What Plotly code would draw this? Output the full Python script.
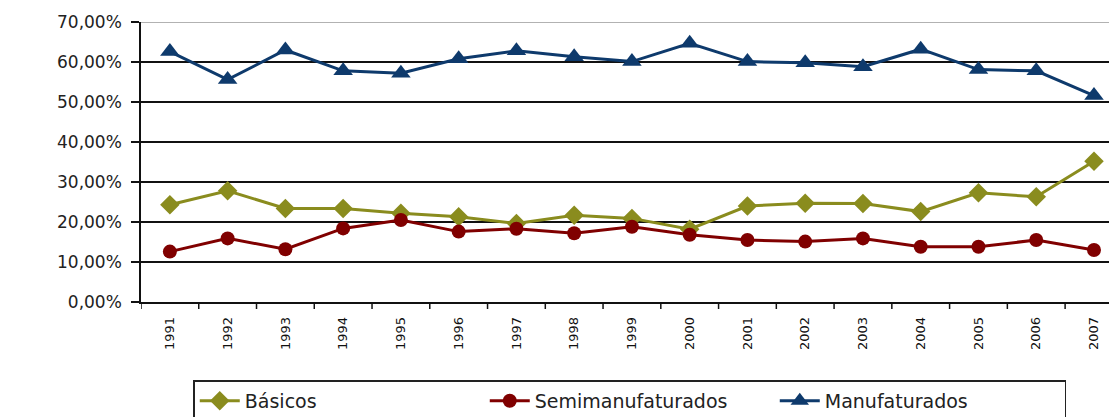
import plotly.graph_objects as go

years = ["1991", "1992", "1993", "1994", "1995", "1996", "1997", "1998", "1999",
         "2000", "2001", "2002", "2003", "2004", "2005", "2006", "2007"]
basicos = [24.3, 27.8, 23.4, 23.4, 22.2, 21.3, 19.6, 21.7, 20.9,
           18.2, 24.0, 24.7, 24.6, 22.6, 27.3, 26.3, 35.2]
semimanufaturados = [12.6, 15.9, 13.2, 18.4, 20.5, 17.6, 18.3, 17.2, 18.8,
                     16.8, 15.5, 15.1, 15.9, 13.8, 13.8, 15.5, 13.0]
manufaturados = [62.6, 55.6, 63.0, 57.8, 57.2, 60.8, 62.8, 61.3, 60.1,
                 64.7, 60.1, 59.8, 58.8, 63.2, 58.1, 57.8, 51.6]

xs = list(range(len(years)))

fig = go.Figure()
fig.add_trace(go.Scatter(
    x=xs, y=[v / 100 for v in basicos], name="Básicos", mode="lines+markers",
    line=dict(color="#8A8C1E", width=3),
    marker=dict(symbol="diamond", size=15, color="#8A8C1E")))
fig.add_trace(go.Scatter(
    x=xs, y=[v / 100 for v in semimanufaturados], name="Semimanufaturados",
    mode="lines+markers",
    line=dict(color="#800000", width=3),
    marker=dict(symbol="circle", size=14, color="#800000")))
fig.add_trace(go.Scatter(
    x=xs, y=[v / 100 for v in manufaturados], name="Manufaturados",
    mode="lines+markers",
    line=dict(color="#0E3A6C", width=3),
    marker=dict(symbol="triangle-up", size=17, color="#0E3A6C")))

fig.update_layout(
    width=1109, height=417,
    margin=dict(l=141, r=0, t=22, b=115, autoexpand=False),
    paper_bgcolor="white", plot_bgcolor="white",
    separators=",.",
    font=dict(family="DejaVu Sans", color="#222222"),
    showlegend=True,
    legend=dict(
        orientation="h", x=0.054, xanchor="left", y=-0.28, yanchor="top",
        bordercolor="#222222", borderwidth=1.5, bgcolor="white",
        font=dict(size=19, family="DejaVu Sans", color="#222222"),
        entrywidth=235, entrywidthmode="pixels",
        itemwidth=40, tracegroupgap=0,
    ),
    xaxis=dict(
        type="linear", range=[-0.5, 16.26],
        tickmode="array", tickvals=xs, ticktext=years,
        tickangle=-90, tickfont=dict(size=13, color="#111111"),
        ticklabelstandoff=8,
        showgrid=False, zeroline=False,
        showline=True, linecolor="#111111", linewidth=1.5,
        ticks="", fixedrange=True,
    ),
    yaxis=dict(
        range=[0, 0.7], tickvals=[0, 0.1, 0.2, 0.3, 0.4, 0.5, 0.6, 0.7],
        tickformat=".2%", tickfont=dict(size=17, color="#222222"),
        showgrid=True, gridcolor="#111111", gridwidth=1.5,
        zeroline=False, showline=True, linecolor="#111111", linewidth=1.5,
        ticks="outside", ticklen=8, tickcolor="#111111", tickwidth=1.5,
        ticklabelstandoff=6,
    ),
)

# category boundary tick marks on the x axis
boundaries = [i - 0.5 for i in range(len(years) + 1)]
for b in boundaries:
    fig.add_shape(type="line", xref="x", yref="paper", x0=b, x1=b, y0=0, y1=-0.025,
                  line=dict(color="#111111", width=1.5))
# lighter top border of the plot area
fig.add_shape(type="line", xref="paper", yref="y", x0=0, x1=1, y0=0.7, y1=0.7,
              line=dict(color="#999999", width=1.5))

fig.write_html("out.html")
